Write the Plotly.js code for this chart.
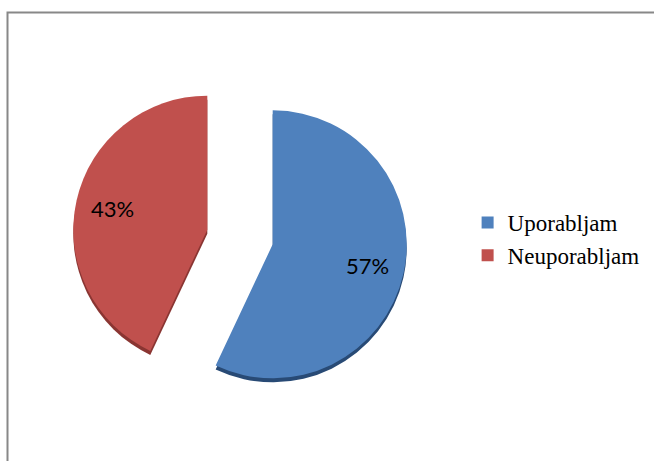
<!DOCTYPE html>
<html>
<head>
<meta charset="utf-8">
<script src="https://cdn.plot.ly/plotly-3.0.1.min.js"></script>
<style>html,body{margin:0;padding:0;background:#fff;}#chart{width:654px;height:461px;}</style>
</head>
<body>
<div id="chart"></div>
<script>
var labels = ["Uporabljam", "Neuporabljam"];
var values = [57, 43];
var colors = ["#4F81BD", "#C0504D"];
var shadowColors = ["#284a75", "#8a3532"];

var dom = {x: [0.1109, 0.6231], y: [0.1226, 0.8492]};
var shift = 4 / 461;

var shadow = {
  type: "pie", labels: labels, values: values, sort: false, direction: "clockwise",
  rotation: 0, pull: 0.25, textinfo: "none", hoverinfo: "skip", showlegend: false,
  marker: {colors: shadowColors, line: {width: 0}},
  domain: {x: dom.x, y: [dom.y[0] - shift, dom.y[1] - shift]}
};
var main = {
  type: "pie", labels: labels, values: values, sort: false, direction: "clockwise",
  rotation: 0, pull: 0.25, textinfo: "none",
  marker: {colors: colors, line: {width: 0}},
  domain: dom
};
var txt = {
  type: "pie", labels: labels, values: values, sort: false, direction: "clockwise",
  rotation: 0, pull: 0.25, hole: 0.45, showlegend: false, hoverinfo: "skip",
  textinfo: "percent", textposition: "inside", insidetextorientation: "horizontal",
  texttemplate: "%{percent:.0%}",
  insidetextfont: {family: "Lato, 'Open Sans', sans-serif", size: 22, color: "#000"},
  marker: {colors: ["rgba(0,0,0,0)", "rgba(0,0,0,0)"], line: {width: 0}},
  domain: dom
};

var layout = {
  width: 654, height: 461,
  margin: {l: 0, r: 0, t: 0, b: 0},
  paper_bgcolor: "#fff",
  showlegend: true,
  legend: {
    x: 0.715, xanchor: "left", y: 0.4816, yanchor: "middle",
    font: {family: "'Liberation Serif', 'Times New Roman', serif", size: 23, color: "#000"},
    bgcolor: "rgba(0,0,0,0)"
  },
  shapes: [{
    type: "rect", xref: "paper", yref: "paper",
    x0: 7.5 / 654, x1: 1.05, y0: -0.05, y1: 1 - 12.5 / 461,
    line: {color: "#888888", width: 2}, fillcolor: "rgba(0,0,0,0)", layer: "below"
  }]
};

Plotly.newPlot("chart", [shadow, main, txt], layout, {displayModeBar: false, staticPlot: true});
</script>
</body>
</html>
